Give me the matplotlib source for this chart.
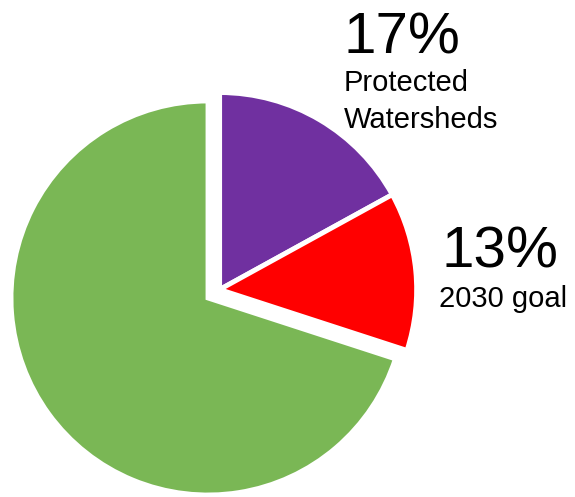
import numpy as np
import matplotlib.pyplot as plt

# slice values (percent), clockwise from 12 o'clock
labels = ["Protected Watersheds", "2030 goal", "Other"]
values = [17, 13, 70]
colors = ["#7030A0", "#FF0000", "#7AB755"]
group_pull = 0.073               # purple + red pulled out together

W, H = 575, 497
fig = plt.figure(figsize=(W / 100, H / 100), dpi=100)
ax = fig.add_axes([0, 0, 1, 1])

# pie centre (208, 298) px, radius 197 px -> one data unit = 197 px
r_px, cx, cy = 197.0, 208.0, 298.0
wedges, _ = ax.pie(values, colors=colors, startangle=90,
                   counterclock=False, radius=1.0,
                   wedgeprops=dict(edgecolor="white", linewidth=3.5))

# pull the first two wedges out along the bisector of their combined angle
frac = (values[0] + values[1]) / sum(values)
ang = np.deg2rad(90 - 360 * frac / 2)
dx, dy = group_pull * np.cos(ang), group_pull * np.sin(ang)
for w in wedges[:2]:
    x0, y0 = w.center
    w.set_center((x0 + dx, y0 + dy))

ax.set_xlim(-cx / r_px, (W - cx) / r_px)
ax.set_ylim(-(H - cy) / r_px, cy / r_px)
ax.set_aspect("auto")
ax.axis("off")


def px_text(x, y, s, size):
    fig.text(x / W, 1 - y / H, s, fontsize=size, family="Liberation Sans",
             ha="left", va="baseline")


px_text(344, 53, "17%", 42)
px_text(344, 91, "Protected", 21)
px_text(344, 128, "Watersheds", 21)
px_text(441, 268, "13%", 42)
px_text(439, 307, "2030 goal", 21)

fig.savefig("out.png", dpi=100, facecolor="white")
